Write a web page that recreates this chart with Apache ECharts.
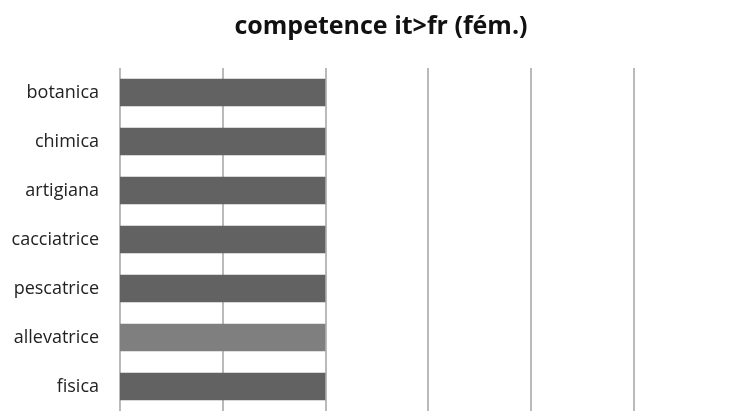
<!DOCTYPE html>
<html>
<head>
<meta charset="utf-8">
<script src="https://cdn.jsdelivr.net/npm/echarts@6/dist/echarts.min.js"></script>
<style>
html, body { margin: 0; padding: 0; background: #fff; overflow: hidden; }
/* the value axis runs a little past the right edge of the window */
#chart { width: 736px; height: 411px; }
</style>
</head>
<body>
<div id="chart"></div>
<script>
// Categories, top to bottom
const categories = ['botanica', 'chimica', 'artigiana', 'cacciatrice', 'pescatrice', 'allevatrice', 'fisica'];
// Value for each category
const values = [2, 2, 2, 2, 2, 2, 2];
// Bar fill per category (allevatrice is highlighted lighter)
const barColors = ['#626262', '#626262', '#626262', '#626262', '#626262', '#7f7f7f', '#626262'];

const chart = echarts.init(document.getElementById('chart'), null, { renderer: 'canvas' });

chart.setOption({
  animation: false,
  backgroundColor: '#ffffff',
  title: {
    text: 'competence it>fr (fém.)',
    left: 376,
    top: 9,
    textAlign: 'center',
    textStyle: {
      fontFamily: 'Open Sans',
      fontWeight: 'bold',
      fontSize: 25,
      color: '#111111'
    }
  },
  grid: {
    left: 120,
    top: 68,
    right: 0,
    bottom: 0,
    containLabel: false
  },
  xAxis: {
    type: 'value',
    min: 0,
    max: 6,
    interval: 1,
    axisLabel: { show: false },
    axisLine: { show: false },
    axisTick: { show: false },
    splitLine: { show: true, lineStyle: { color: '#a3a3a3', width: 1.5 } }
  },
  yAxis: {
    type: 'category',
    inverse: true,
    data: categories,
    axisLine: { show: false },
    axisTick: { show: false },
    axisLabel: {
      margin: 21,
      fontFamily: 'Open Sans',
      fontSize: 18,
      color: '#222222'
    }
  },
  series: [{
    type: 'bar',
    barWidth: '56%',
    data: values.map((v, i) => ({ value: v, itemStyle: { color: barColors[i] } }))
  }]
});
</script>
</body>
</html>
